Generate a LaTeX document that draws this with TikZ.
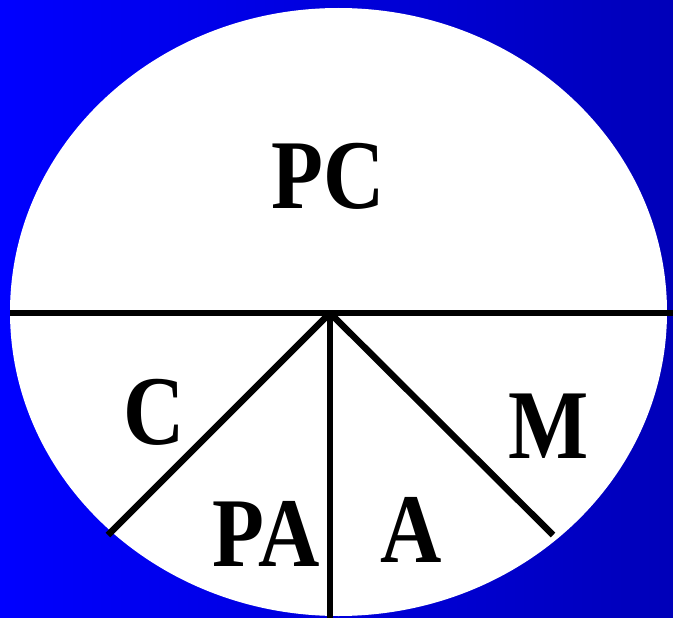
\documentclass[tikz,border=0pt]{standalone}
\usepackage{fontspec}
\setmainfont{Liberation Serif}
\begin{document}
\begin{tikzpicture}[x=1pt,y=-1pt,
  seg/.style={line width=6.5pt, black},
  lab/.style={inner sep=0pt, font=\bfseries\fontsize{85}{85}\selectfont}]
\shade[left color={rgb,255:red,0;green,0;blue,255}, right color={rgb,255:red,0;green,0;blue,185}] (0,0) rectangle (673,618);
\useasboundingbox (0,0) rectangle (673,618);
\fill[white] (338.5,312) ellipse [x radius=328.5, y radius=304];
\coordinate (O) at (330,313);
\coordinate (L) at (10,313);
\coordinate (R) at (673,313);
\coordinate (B) at (330,621);
\coordinate (DL) at (108,535);
\coordinate (DR) at (553,535);
\draw[seg] (L) -- (R);
\draw[seg] (O) -- (B);
\draw[seg] (O) -- (DL);
\draw[seg] (O) -- (DR);
\node[lab] (pc) at (328,176) {\scalebox{1}[1.16]{PC}};
\node[lab] (c) at (154,412) {\scalebox{1}[1.16]{C}};
\node[lab] (m) at (549,426) {\scalebox{1}[1.16]{M}};
\node[lab] (pa) at (266,534) {\scalebox{1}[1.16]{PA}};
\node[lab] (a) at (411,530) {\scalebox{1}[1.16]{A}};
\end{tikzpicture}
\end{document}
